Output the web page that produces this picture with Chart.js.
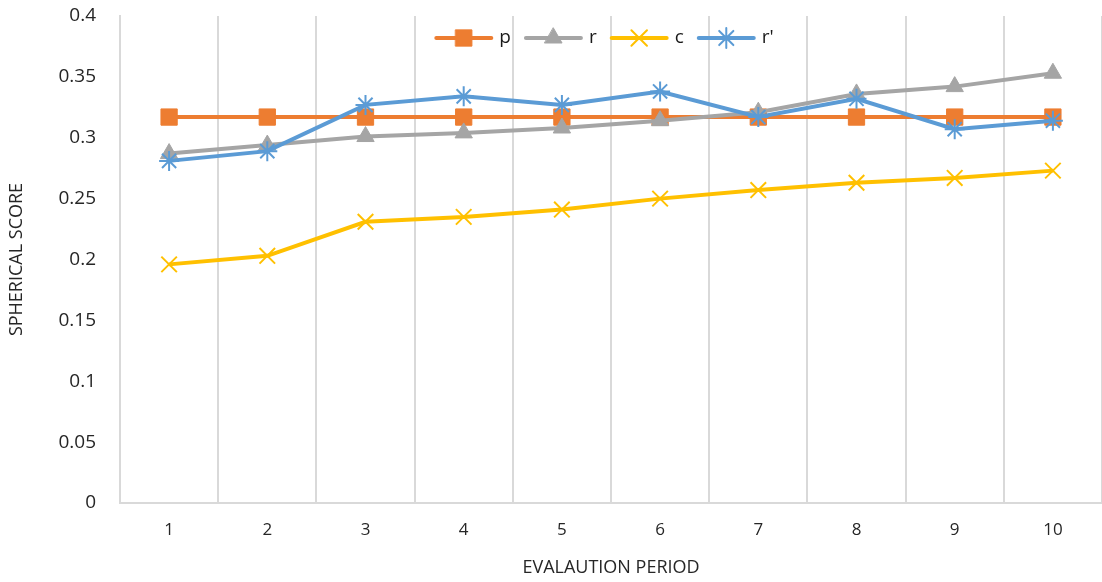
<!DOCTYPE html>
<html>
<head>
<meta charset="utf-8">
<script src="https://cdn.jsdelivr.net/npm/chart.js@4"></script>
<style>
  html, body { margin: 0; padding: 0; background: #fff; }
  #wrap { width: 1102px; height: 582px; position: relative; }
</style>
</head>
<body>
<div id="wrap"><canvas id="scoreChart"></canvas></div>
<script>
// evaluation periods on the x axis
const periods = ["1", "2", "3", "4", "5", "6", "7", "8", "9", "10"];

// series values
const pValues = [0.317, 0.317, 0.317, 0.317, 0.317, 0.317, 0.317, 0.317, 0.317, 0.317];
const rValues = [0.287, 0.294, 0.301, 0.304, 0.308, 0.314, 0.321, 0.336, 0.342, 0.353];
const cValues = [0.196, 0.203, 0.231, 0.235, 0.241, 0.250, 0.257, 0.263, 0.267, 0.273];
const rPrimeValues = [0.281, 0.289, 0.327, 0.334, 0.327, 0.338, 0.317, 0.332, 0.307, 0.314];

const seriesLabels = ["p", "r", "c", "r'"];
const yTickLabels = ["0", "0.05", "0.1", "0.15", "0.2", "0.25", "0.3", "0.35", "0.4"];

const fontFamily = '"Open Sans", "Noto Sans", sans-serif';
const textColor = "#262626";
const gridColor = "#d9d9d9";

// legend drawn inside the plot area, line + marker like the original
const inlineLegend = {
    id: "inlineLegend",
    afterDraw(chart) {
        const ctx = chart.ctx;
        const area = chart.chartArea;
        const lineLen = 55, gap = 8, itemGap = 15;
        ctx.save();
        ctx.font = "19px " + fontFamily;
        const items = chart.data.datasets.map(ds => ({
            ds: ds,
            w: lineLen + gap + ctx.measureText(ds.label).width
        }));
        const total = items.reduce((s, it) => s + it.w, 0) + itemGap * (items.length - 1);
        let x = 605 - total / 2;
        const y = area.top + 22;
        items.forEach(it => {
            const ds = it.ds;
            ctx.strokeStyle = ds.borderColor;
            ctx.lineWidth = ds.borderWidth;
            ctx.lineCap = "round";
            ctx.beginPath();
            ctx.moveTo(x, y);
            ctx.lineTo(x + lineLen, y);
            ctx.stroke();

            ctx.fillStyle = ds.pointBackgroundColor;
            ctx.strokeStyle = ds.pointBorderColor;
            ctx.lineWidth = ds.pointBorderWidth;
            Chart.helpers.drawPoint(ctx, {
                pointStyle: ds.pointStyle,
                radius: ds.pointRadius,
                borderWidth: ds.pointBorderWidth,
                rotation: 0
            }, x + lineLen / 2, y);

            ctx.fillStyle = "#1a1a1a";
            ctx.textAlign = "left";
            ctx.textBaseline = "middle";
            ctx.fillText(ds.label, x + lineLen + gap, y);
            x += it.w + itemGap;
        });
        ctx.restore();
    }
};

function makeSeries(label, data, color, style, radius, pbw, order) {
    return {
        label: label,
        data: data,
        borderColor: color,
        backgroundColor: color,
        borderWidth: 4,
        pointStyle: style,
        pointRadius: radius,
        pointHoverRadius: radius,
        pointBackgroundColor: color,
        pointBorderColor: color,
        pointBorderWidth: pbw,
        tension: 0,
        fill: false,
        order: order
    };
}

const ctx = document.getElementById("scoreChart").getContext("2d");
new Chart(ctx, {
    type: "line",
    data: {
        labels: periods,
        datasets: [
            makeSeries(seriesLabels[0], pValues, "#ed7d31", "rect", 11.5, 1, 4),
            makeSeries(seriesLabels[1], rValues, "#a5a5a5", "triangle", 10, 1, 3),
            makeSeries(seriesLabels[2], cValues, "#ffc000", "crossRot", 11, 2, 2),
            makeSeries(seriesLabels[3], rPrimeValues, "#5b9bd5", "star", 10, 2, 1)
        ]
    },
    plugins: [inlineLegend],
    options: {
        responsive: true,
        maintainAspectRatio: false,
        animation: false,
        layout: { autoPadding: false, padding: { top: 16, right: -10, bottom: 0, left: 0 } },
        plugins: {
            legend: { display: false },
            tooltip: { enabled: false }
        },
        scales: {
            x: {
                offset: true,
                grid: {
                    display: true,
                    offset: true,
                    color: gridColor,
                    lineWidth: 2,
                    drawTicks: true,
                    tickLength: 17,
                    tickColor: "rgba(0,0,0,0)"
                },
                border: { display: true, color: gridColor, width: 2 },
                ticks: {
                    color: textColor,
                    padding: 0,
                    font: { family: fontFamily, size: 17 }
                },
                title: {
                    display: true,
                    text: "EVALAUTION PERIOD",
                    color: textColor,
                    padding: { top: 0, bottom: 3 },
                    font: { family: fontFamily, size: 18 }
                },
                afterFit: scale => { scale.height = 79; }
            },
            y: {
                min: 0,
                max: 0.4,
                grid: { display: false, drawTicks: true, tickLength: 24 },
                border: { display: true, color: gridColor, width: 2 },
                ticks: {
                    stepSize: 0.05,
                    color: textColor,
                    padding: 0,
                    font: { family: fontFamily, size: 19 },
                    callback: (v, i) => yTickLabels[i]
                },
                title: {
                    display: true,
                    text: "SPHERICAL SCORE",
                    color: textColor,
                    padding: { top: 6, bottom: 0 },
                    font: { family: fontFamily, size: 18 }
                },
                afterFit: scale => { scale.width = 120; }
            }
        }
    }
});
</script>
</body>
</html>
